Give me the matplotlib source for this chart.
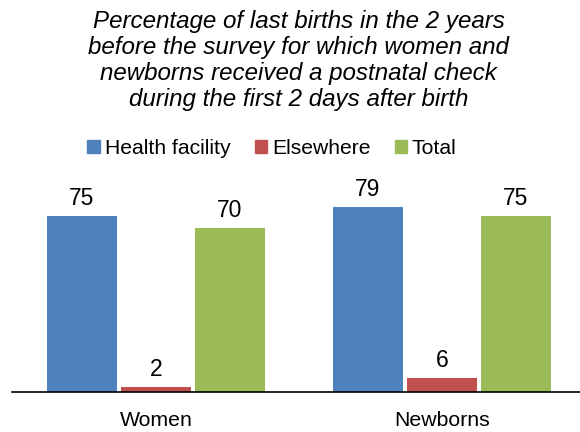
import numpy as np
import matplotlib.pyplot as plt
from matplotlib.patches import Patch

plt.rcParams['font.family'] = ['Liberation Sans', 'DejaVu Sans']

# postnatal check data
groups = ["Women", "Newborns"]
series = ["Health facility", "Elsewhere", "Total"]
health_facility = [75, 79]
elsewhere = [2, 6]
total = [70, 75]
colors = ["#4F81BD", "#C0504D", "#9BBB59"]

title = ("Percentage of last births in the 2 years\n"
         "before the survey for which women and\n"
         "newborns received a postnatal check\n"
         "during the first 2 days after birth")

fig = plt.figure(figsize=(5.8, 4.32), dpi=100)
ax = fig.add_axes([0.0207, 0.0926, 0.9793, 0.444])

x = np.arange(len(groups))
w = 0.245
step = 0.259
values = [health_facility, elsewhere, total]
for i, (vals, c) in enumerate(zip(values, colors)):
    pos = x + (i - 1) * step
    ax.bar(pos, vals, width=w, color=c)
    for p, v in zip(pos, vals):
        ax.text(p, v + 2.6, str(v), ha="center", va="bottom", fontsize=16.5)

ax.set_xlim(-0.503, 1.483)
ax.set_ylim(0, 81.8)
ax.set_yticks([])
ax.set_xticks(x)
ax.set_xticklabels(groups, fontsize=15.3)
ax.tick_params(axis="x", length=0, pad=14)
for s in ["top", "right", "left"]:
    ax.spines[s].set_visible(False)
ax.spines["bottom"].set_linewidth(1.2)

fig.text(0.515, 0.977, title, ha="center", va="top", fontsize=17.4,
         style="italic", linespacing=1.17)

handles = [Patch(color=c) for c in colors]
fig.legend(handles, series, loc="center", bbox_to_anchor=(0.469, 0.657),
           ncol=3, frameon=False, fontsize=15.2, handlelength=0.58,
           handleheight=0.58, handletextpad=0.24, columnspacing=1.15)

fig.savefig("out.png", dpi=100)
